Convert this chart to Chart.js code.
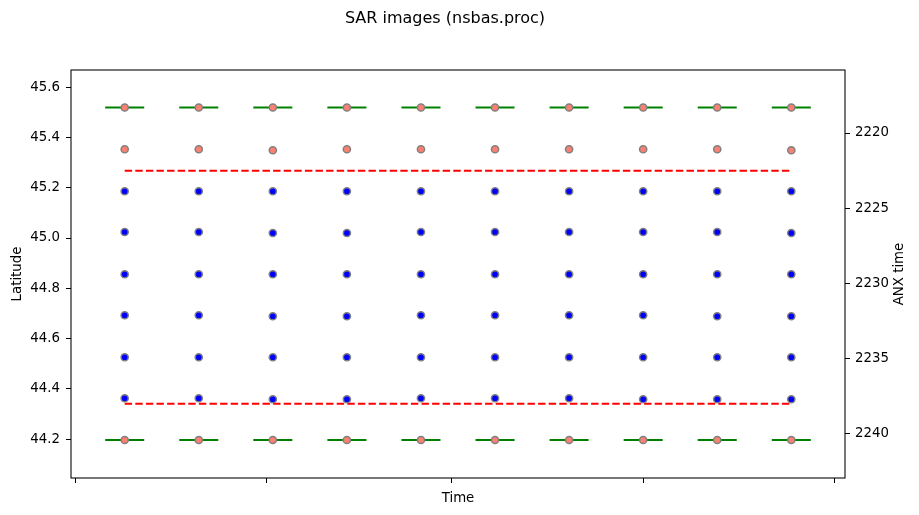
<!DOCTYPE html>
<html>
<head>
<meta charset="utf-8">
<script src="https://cdn.jsdelivr.net/npm/chart.js@4.4.1/dist/chart.umd.min.js"></script>
<style>
  html, body { margin: 0; padding: 0; background: #fff; }
  #c { display: block; }
</style>
</head>
<body>
<canvas id="c" width="919" height="515"></canvas>
<script>
// ---------------- data ----------------
const titleText = 'SAR images (nsbas.proc)';
const dates = ['2016-10-09','2016-10-21','2016-11-02','2016-11-14','2016-11-26',
               '2016-12-08','2016-12-20','2017-01-01','2017-01-13','2017-01-25'];
const monthTicks = ['2016-10-01','2016-11-01','2016-12-01','2017-01-01','2017-02-01'];
const latTicks = [44.2, 44.4, 44.6, 44.8, 45.0, 45.2, 45.4, 45.6];
const anxTicks = [2220, 2225, 2230, 2235, 2240];
const latRange = [44.046, 45.668];
const anxRange = [2215.81, 2242.93];
const burstHalfDays = 3;

// latitude of each burst centre (rows, top to bottom), one value per date
const rowTopEdge    = [45.519,45.519,45.519,45.519,45.519,45.519,45.519,45.519,45.519,45.519];
const rowOutTop     = [45.353,45.353,45.349,45.353,45.353,45.353,45.353,45.353,45.353,45.349];
const rowIn1        = [45.186,45.186,45.186,45.186,45.186,45.186,45.186,45.186,45.186,45.186];
const rowIn2        = [45.024,45.024,45.020,45.020,45.024,45.024,45.024,45.024,45.024,45.020];
const rowIn3        = [44.856,44.856,44.856,44.856,44.856,44.856,44.856,44.856,44.856,44.856];
const rowIn4        = [44.693,44.693,44.689,44.689,44.693,44.693,44.693,44.693,44.689,44.689];
const rowIn5        = [44.526,44.526,44.526,44.526,44.526,44.526,44.526,44.526,44.526,44.526];
const rowIn6        = [44.363,44.363,44.359,44.359,44.363,44.363,44.363,44.359,44.359,44.359];
const rowBottomEdge = [44.197,44.197,44.197,44.197,44.197,44.197,44.197,44.197,44.197,44.197];
// common-area limits (dashed lines)
const dashedLevels = [45.267, 44.341];

// ---------------- build ----------------
const toDay = s => Date.parse(s + 'T00:00:00Z') / 86400000;
const xs = dates.map(toDay);
const xTickVals = monthTicks.map(toDay);
const dataMin = xs[0] - burstHalfDays, dataMax = xs[xs.length - 1] + burstHalfDays;
const marg = 0.05 * (dataMax - dataMin);

const pts = row => row.map((y, i) => ({x: xs[i], y}));
const segs = row => {
  const out = [];
  row.forEach((y, i) => {
    out.push({x: xs[i] - burstHalfDays, y});
    out.push({x: xs[i] + burstHalfDays, y});
    out.push({x: xs[i] + burstHalfDays, y: null});
  });
  return out;
};

const salmonRows = [rowTopEdge, rowOutTop, rowBottomEdge];
const blueRows = [rowIn1, rowIn2, rowIn3, rowIn4, rowIn5, rowIn6];

const pointStyle = (color) => ({
  showLine: false, pointRadius: 3.6, pointBorderWidth: 1.5,
  pointBorderColor: '#808080', pointBackgroundColor: color, order: 0
});

const datasets = [];
salmonRows.forEach(r => datasets.push(Object.assign({data: pts(r)}, pointStyle('#fa8072'))));
blueRows.forEach(r => datasets.push(Object.assign({data: pts(r)}, pointStyle('#0000ff'))));
[rowTopEdge, rowBottomEdge].forEach(r => datasets.push({
  data: segs(r), showLine: true, spanGaps: false, pointRadius: 0,
  borderColor: '#008000', borderWidth: 2, borderCapStyle: 'square', order: 2
}));
dashedLevels.forEach(lv => datasets.push({
  data: [{x: xs[0], y: lv}, {x: xs[xs.length - 1], y: lv}],
  showLine: true, pointRadius: 0, borderColor: '#ff0000', borderWidth: 2,
  borderDash: [7.4, 3.2], order: 1
}));

const FONT = 'DejaVu Sans';
const tickFont = {family: FONT, size: 13.33};

const decor = {
  id: 'decor',
  afterDraw(chart) {
    const {ctx, chartArea: a} = chart;
    ctx.save();
    ctx.strokeStyle = '#000';
    ctx.lineWidth = 1.07;
    ctx.strokeRect(a.left, a.top, a.right - a.left, a.bottom - a.top);
    ctx.fillStyle = '#000';
    ctx.textAlign = 'center';
    ctx.textBaseline = 'middle';
    ctx.font = '16px "' + FONT + '"';
    ctx.fillText(titleText, 445, 18.5);
    ctx.font = '13.33px "' + FONT + '"';
    ctx.translate(900, (a.top + a.bottom) / 2);
    ctx.rotate(-Math.PI / 2);
    ctx.fillText('ANX time', 0, 0);
    ctx.restore();
  }
};

new Chart(document.getElementById('c'), {
  type: 'scatter',
  data: {datasets},
  options: {
    responsive: false,
    devicePixelRatio: 1,
    animation: false,
    events: [],
    layout: {padding: {top: 70, left: 0, right: 0, bottom: 0}},
    plugins: {legend: {display: false}, tooltip: {enabled: false}, title: {display: false}},
    scales: {
      x: {
        type: 'linear', position: 'bottom',
        min: dataMin - marg, max: dataMax + marg,
        afterBuildTicks: s => { s.ticks = xTickVals.map(v => ({value: v})); },
        afterFit: s => { s.height = 37; },
        ticks: {display: false, autoSkip: false},
        grid: {drawOnChartArea: false, drawTicks: true, tickLength: 5, color: '#000', lineWidth: 1},
        border: {display: false},
        title: {display: true, text: 'Time', color: '#000', font: tickFont, padding: {top: 0, bottom: 8.5}}
      },
      y: {
        type: 'linear', position: 'left',
        min: latRange[0], max: latRange[1],
        afterBuildTicks: s => { s.ticks = latTicks.map(v => ({value: v})); },
        afterFit: s => { s.width = 71; },
        ticks: {color: '#000', font: tickFont, padding: 6, autoSkip: false, callback: v => v.toFixed(1)},
        grid: {drawOnChartArea: false, drawTicks: true, tickLength: 5, color: '#000', lineWidth: 1},
        border: {display: false},
        title: {display: true, text: 'Latitude', color: '#000', font: tickFont, padding: {top: 9.5, bottom: 0}}
      },
      y2: {
        type: 'linear', position: 'right', reverse: true,
        min: anxRange[0], max: anxRange[1],
        afterBuildTicks: s => { s.ticks = anxTicks.map(v => ({value: v})); },
        afterFit: s => { s.width = 74; },
        ticks: {color: '#000', font: tickFont, padding: 5, autoSkip: false, callback: v => String(v)},
        grid: {drawOnChartArea: false, drawTicks: true, tickLength: 5, color: '#000', lineWidth: 1},
        border: {display: false},
        title: {display: false, text: 'ANX time'}
      }
    }
  },
  plugins: [decor]
});
</script>
</body>
</html>
